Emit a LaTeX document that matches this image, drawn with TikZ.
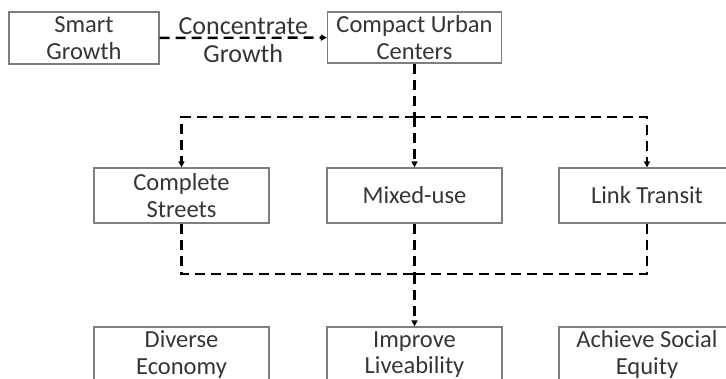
\documentclass[tikz,border=0pt]{standalone}
\usepackage{fontspec}
\setmainfont{Carlito}
\usetikzlibrary{arrows.meta}
\definecolor{boxline}{HTML}{7F7F7F}
\definecolor{txt}{HTML}{353535}
\begin{document}
\begin{tikzpicture}[x=1pt,y=-1pt,
  box/.style={draw=boxline,line width=1.3pt,rectangle,align=center,inner sep=2pt,
     text=txt,font=\fontsize{24.5}{26.5}\selectfont},
  dline/.style={draw=black,line width=2.4pt,dash pattern=on 10pt off 6pt},
  tip/.style={-{Triangle[length=6pt,width=6pt]}},
  lbl/.style={align=center,text=txt,font=\fontsize{26}{28}\selectfont,inner sep=0pt}]
\useasboundingbox (0,0) rectangle (726,378);
\clip (0,0) rectangle (726,378);
\node[box,minimum width=150pt,minimum height=52pt] (smart) at (84,38) {Smart\\Growth};
\node[box,minimum width=174pt,minimum height=51pt] (compact) at (414.5,37.5) {Compact Urban\\Centers};
\node[box,minimum width=175pt,minimum height=55pt] (cs) at (181.5,195.5) {Complete\\Streets};
\node[box,minimum width=175pt,minimum height=55pt] (mu) at (414.5,195.5) {Mixed-use};
\node[box,minimum width=176pt,minimum height=55pt] (lt) at (647,195.5) {Link Transit};
\node[box,minimum width=175pt,minimum height=55pt] (de) at (181.5,354.5) {Diverse\\Economy};
\node[box,minimum width=175pt,minimum height=55pt] (il) at (414.5,354.5) {Improve\\Liveability};
\node[box,minimum width=176pt,minimum height=55pt] (as) at (647,354.5) {Achieve Social\\Equity};
\coordinate (tj) at (414.5,117);
\coordinate (bj) at (414.5,274);
\draw[dline,tip] (smart) -- (compact) node[midway,lbl,yshift=-2pt] (cg) {Concentrate\\Growth};
\draw[dline] (compact) -- (tj);
\draw[dline,tip] (tj) -| (cs);
\draw[dline,tip] (tj) -- (mu);
\draw[dline,tip] (tj) -| (lt);
\draw[dline] (cs) |- (bj);
\draw[dline] (lt) |- (bj);
\draw[dline] (mu) -- (bj);
\draw[dline,tip] (bj) -- (il);
\end{tikzpicture}
\end{document}
